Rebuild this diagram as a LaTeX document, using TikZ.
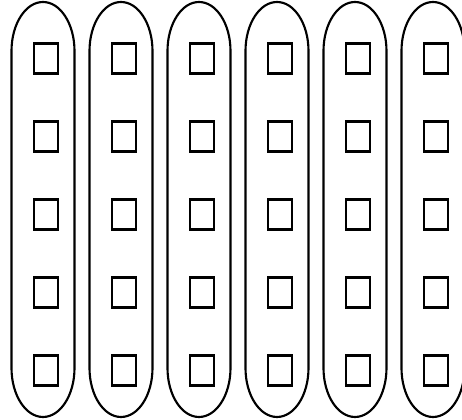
\documentclass[tikz,border=0pt]{standalone}
\begin{document}
\begin{tikzpicture}[x=0.75pt,y=0.75pt,
  capsule/.style={draw=black,line width=1.6pt},
  cell/.style={draw=black,line width=2.1pt,minimum width=24*0.75pt,minimum height=30*0.75pt,inner sep=0pt}]
\useasboundingbox (0,0) rectangle (462,420);
\foreach \i in {0,...,5}{
  \pgfmathsetmacro{\cx}{43+78*\i}
  \draw[capsule] (\cx-31.5,369) arc[start angle=180,end angle=0,x radius=31.5,y radius=49]
     -- (\cx+31.5,52) arc[start angle=0,end angle=-180,x radius=31.5,y radius=49] -- cycle;
  \foreach \j in {0,...,4}{
    \pgfmathsetmacro{\cy}{420-58.5-78*\j}
    \node[cell] (s\i\j) at (\cx+3,\cy) {};
  }
}
\end{tikzpicture}
\end{document}
